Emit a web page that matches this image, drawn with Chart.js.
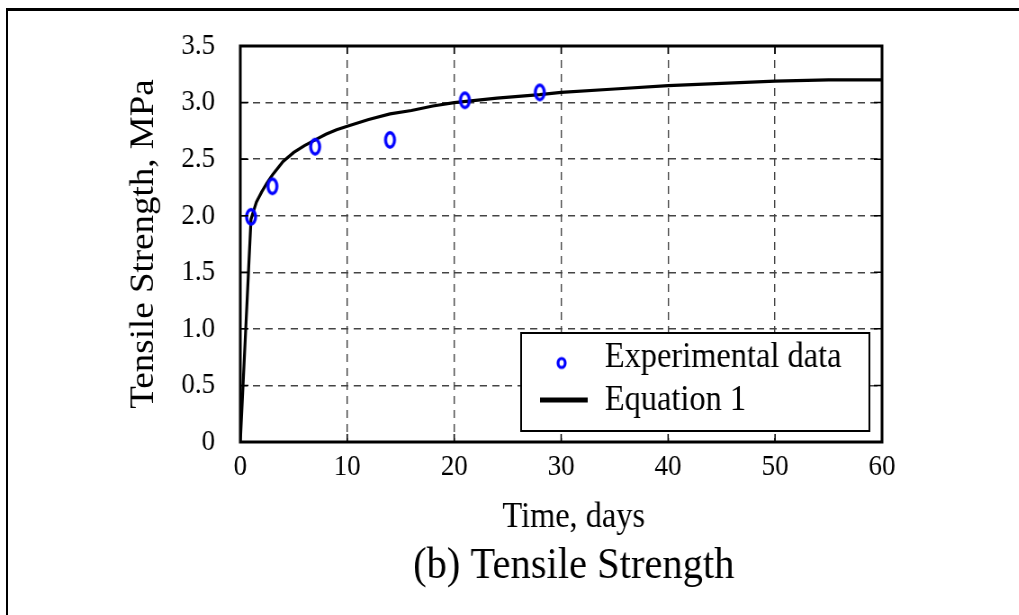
<!DOCTYPE html>
<html>
<head>
<meta charset="utf-8">
<script src="https://cdn.jsdelivr.net/npm/chart.js@4/dist/chart.umd.min.js"></script>
<style>
html, body { margin: 0; padding: 0; background: #fff; overflow: hidden; width: 1019px; height: 615px; }
#frame { position: absolute; left: 6px; top: 8px; width: 1100px; height: 700px; border-left: 2px solid #000; border-top: 3px solid #000; }
/* the source figure is a bit condensed horizontally, so draw wide and squeeze */
#wrap { position: absolute; left: 0; top: 0; width: 1133px; height: 615px; transform: scaleX(0.9); transform-origin: 0 0; }
</style>
</head>
<body>
<div id="frame"></div>
<div id="wrap"><canvas id="chart" width="1133" height="615"></canvas></div>
<script>
// experimental points
const expDays = [1, 3, 7, 14, 21, 28];
const expStrength = [1.99, 2.26, 2.61, 2.67, 3.02, 3.09];

// Equation 1 curve
const eqDays = [0, 1, 1.5, 2, 2.5, 3, 4, 5, 6, 7, 8, 9, 10, 12, 14, 16, 18, 20, 22, 24, 26, 28, 30, 35, 40, 45, 50, 55, 60];
const eqStrength = [0, 1.97, 2.12, 2.21, 2.29, 2.36, 2.48, 2.56, 2.62, 2.67, 2.72, 2.76, 2.79, 2.85, 2.90, 2.93, 2.97, 3.00, 3.02, 3.04, 3.055, 3.07, 3.09, 3.12, 3.15, 3.17, 3.19, 3.20, 3.20];

const yTickLabels = ['0', '0.5', '1.0', '1.5', '2.0', '2.5', '3.0', '3.5'];
const xTickLabels = ['0', '10', '20', '30', '40', '50', '60'];

const xTitle = 'Time, days';
const yTitle = 'Tensile Strength, MPa';
const caption = '(b) Tensile Strength';

const serif = "'Liberation Serif', 'Times New Roman', serif";

function ellipseMarker(w, h, lw)
{
    const c = document.createElement('canvas');
    c.width = Math.ceil(w + lw + 2);
    c.height = Math.ceil(h + lw + 2);
    const g = c.getContext('2d');
    g.strokeStyle = '#0000ff';
    g.lineWidth = lw;
    g.beginPath();
    g.ellipse(c.width / 2, c.height / 2, w / 2, h / 2, 0, 0, Math.PI * 2);
    g.stroke();
    return c;
}

const dataMarker = ellipseMarker(10, 14.5, 3.4);
const legendMarker = ellipseMarker(8, 9, 3.2);

// plot frame + inward tick marks
const framePlugin = {
    id: 'framePlugin',
    afterDatasetsDraw(chart)
    {
        const {ctx, chartArea: a, scales} = chart;
        ctx.save();
        ctx.strokeStyle = '#000';
        ctx.lineWidth = 1.5;
        ctx.beginPath();
        scales.x.ticks.forEach(t => {
            const px = scales.x.getPixelForValue(t.value);
            ctx.moveTo(px, a.bottom); ctx.lineTo(px, a.bottom - 8);
            ctx.moveTo(px, a.top); ctx.lineTo(px, a.top + 8);
        });
        scales.y.ticks.forEach(t => {
            const py = scales.y.getPixelForValue(t.value);
            ctx.moveTo(a.left, py); ctx.lineTo(a.left + 9, py);
            ctx.moveTo(a.right, py); ctx.lineTo(a.right - 9, py);
        });
        ctx.stroke();
        ctx.lineWidth = 3;
        ctx.strokeRect(a.left, a.top, a.right - a.left, a.bottom - a.top);
        ctx.restore();
    }
};

// boxed legend in the lower right of the plot
const boxLegend = {
    id: 'boxLegend',
    afterDraw(chart)
    {
        const {ctx, chartArea: a} = chart;
        const ds = chart.data.datasets;
        const w = 387, h = 98;
        const right = a.right - 14, bottom = a.bottom - 11;
        const left = right - w, top = bottom - h;
        ctx.save();
        ctx.fillStyle = '#fff';
        ctx.fillRect(left, top, w, h);
        ctx.strokeStyle = '#000';
        ctx.lineWidth = 2;
        ctx.strokeRect(left, top, w, h);

        ctx.drawImage(legendMarker, left + 45 - legendMarker.width / 2, top + 30 - legendMarker.height / 2);
        ctx.lineWidth = 5;
        ctx.beginPath();
        ctx.moveTo(left + 21, top + 67);
        ctx.lineTo(left + 74, top + 67);
        ctx.stroke();

        ctx.fillStyle = '#000';
        ctx.font = '36px ' + serif;
        ctx.textBaseline = 'middle';
        ctx.textAlign = 'left';
        ctx.fillText(ds[0].label, left + 93, top + 25);
        ctx.fillText(ds[1].label, left + 93, top + 68);
        ctx.restore();
    }
};

// x title and figure caption, centred a little right of the plot centre as in the source
const captions = {
    id: 'captions',
    afterDraw(chart)
    {
        const {ctx, chartArea: a} = chart;
        const cx = (a.left + a.right) / 2 + 14;
        ctx.save();
        ctx.fillStyle = '#000';
        ctx.textAlign = 'center';
        ctx.textBaseline = 'alphabetic';
        ctx.font = '36px ' + serif;
        ctx.fillText(xTitle, cx, a.bottom + 85);
        ctx.font = '45px ' + serif;
        ctx.fillText(caption, cx, a.bottom + 136);
        ctx.restore();
    }
};

const gridStyle = {color: '#444', lineWidth: 1.4, drawTicks: false};

const config = {
    type: 'scatter',
    data: {
        datasets: [
            {
                label: 'Experimental data',
                data: expDays.map((d, i) => ({x: d, y: expStrength[i]})),
                pointStyle: dataMarker,
                pointRadius: 8,
                showLine: false,
            },
            {
                label: 'Equation 1',
                data: eqDays.map((d, i) => ({x: d, y: eqStrength[i]})),
                showLine: true,
                borderColor: '#000',
                borderWidth: 3.2,
                pointRadius: 0,
                tension: 0,
            }
        ]
    },
    options: {
        responsive: false,
        animation: false,
        devicePixelRatio: 1,
        events: [],
        layout: {padding: {left: 0, right: 153, top: 46, bottom: 79}},
        scales: {
            x: {
                type: 'linear',
                min: 0, max: 60,
                grid: gridStyle,
                border: {display: false, dash: [8, 6]},
                ticks: {
                    stepSize: 10,
                    padding: 7,
                    color: '#000',
                    font: {family: serif, size: 30},
                    callback: (v, i) => xTickLabels[i],
                },
                afterFit: scale => { scale.height = 94; },
            },
            y: {
                type: 'linear',
                min: 0, max: 3.5,
                grid: gridStyle,
                border: {display: false, dash: [8, 6]},
                ticks: {
                    stepSize: 0.5,
                    padding: 28,
                    color: '#000',
                    font: {family: serif, size: 30},
                    callback: (v, i) => yTickLabels[i],
                },
                title: {
                    display: true,
                    text: yTitle,
                    color: '#000',
                    font: {family: serif, size: 37},
                    padding: {top: 138, bottom: 0},
                },
                afterFit: scale => { scale.width = 267; },
            }
        },
        plugins: {
            legend: {display: false},
            tooltip: {enabled: false},
            title: {display: false}
        }
    },
    plugins: [framePlugin, boxLegend, captions]
};

const chart = new Chart(document.getElementById('chart'), config);
</script>
</body>
</html>
